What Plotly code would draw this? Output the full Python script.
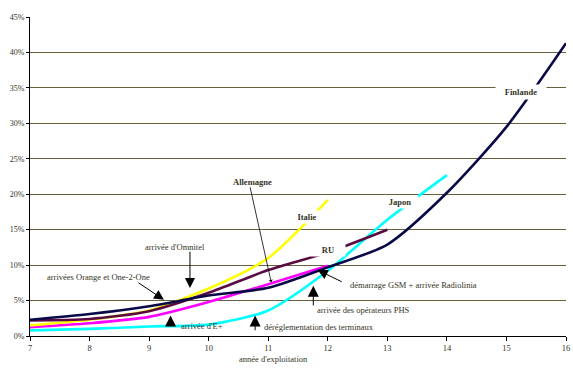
import plotly.graph_objects as go

years = [7, 8, 9, 10, 11, 12, 13, 14, 15, 16]
finlande = [2.3, 3.1, 4.2, 5.7, 6.8, 9.7, 12.9, 20.2, 29.5, 41.3]
italie = [1.5, 2.3, 3.6, 6.7, 11.0, 19.2, None, None, None, None]
ru = [2.2, 2.4, 3.5, 6.1, 9.3, 11.8, 15.0, None, None, None]
allemagne = [1.25, 1.8, 2.7, 4.8, 7.3, 9.9, None, None, None, None]
japon = [0.8, 1.0, 1.35, 1.6, 3.6, 9.2, 16.4, 22.7, None, None]

series = [
    ("Japon", japon, "#00FFFF"),
    ("Allemagne", allemagne, "#FF00FF"),
    ("Italie", italie, "#FFFF00"),
    ("RU", ru, "#5A0C42"),
    ("Finlande", finlande, "#0A0A48"),
]

y_ticks = [0, 5, 10, 15, 20, 25, 30, 35, 40, 45]

FONT = "Liberation Serif"
TXT = "#333326"

fig = go.Figure()
for name, vals, col in series:
    fig.add_trace(go.Scatter(
        x=years, y=vals, name=name, mode="lines",
        line=dict(color=col, width=2.6, shape="spline", smoothing=0.7),
        connectgaps=False, hoverinfo="skip"))

ann = []
# series labels (white boxes interrupt the curves like the original)
def lab(text, x, y, w=None, h=None, bg="white"):
    d = dict(text="<b>%s</b>" % text, x=x, y=y, xref="x", yref="y",
             showarrow=False, font=dict(family=FONT, size=8.5, color=TXT),
             bgcolor=bg, borderpad=0)
    if w:
        d["width"] = w
    if h:
        d["height"] = h
    ann.append(d)

lab("Allemagne", 10.73, 21.75, bg="rgba(0,0,0,0)")
lab("Italie", 11.65, 16.8, w=30, h=12)
lab("RU", 12.0, 12.1, w=34, h=12)
lab("Japon", 13.22, 18.9, w=36, h=12)
lab("Finlande", 15.24, 34.4, w=50, h=14)

def txt(text, x, y, xanchor="center"):
    ann.append(dict(text=text, x=x, y=y, xref="x", yref="y", showarrow=False,
                    xanchor=xanchor, font=dict(family=FONT, size=8.5, color=TXT)))

def arrow(x, y, ax, ay, head=2, size=2.0, width=1.0):
    ann.append(dict(text="", x=x, y=y, ax=ax, ay=ay, xref="x", yref="y",
                    axref="x", ayref="y", showarrow=True, arrowhead=head,
                    arrowsize=size, arrowwidth=width, arrowcolor="#000000",
                    standoff=0, startstandoff=0))

txt("arrivée d'Omnitel", 9.435, 12.62)
arrow(9.686, 6.76, 9.686, 12.1)
txt("arrivées Orange et One-2-One", 8.15, 8.35)
arrow(9.25, 5.1, 8.797, 7.64)
txt("arrivée d'E+", 9.50, 1.48, xanchor="left")
arrow(9.36, 2.9, 9.36, 1.3, size=2.2)
txt("déréglementation des terminaux", 10.9, 1.34, xanchor="left")
arrow(10.78, 2.9, 10.78, 0.6, size=2.2)
txt("arrivée des opérateurs PHS", 11.78, 3.7, xanchor="left")
arrow(11.757, 7.1, 11.757, 4.1, size=2.2)
txt("démarrage GSM + arrivée Radiolinia", 12.34, 7.15, xanchor="left")
arrow(11.83, 9.3, 12.26, 7.55)
# Allemagne pointer (thin, small open head)
arrow(11.05, 7.6, 10.69, 21.2, head=1, size=0.9, width=0.8)

# axis title placed as in the original (left of centre)
ann.append(dict(text="année d'exploitation",
                x=(273 - 30) / (566 - 30), y=(336.2 - 359) / (336.2 - 17),
                xref="paper", yref="paper", yanchor="middle", xanchor="center",
                showarrow=False, font=dict(family=FONT, size=8.5, color=TXT)))

fig.update_layout(
    width=573, height=370,
    margin=dict(l=30, r=7, t=17, b=34, autoexpand=False),
    paper_bgcolor="white", plot_bgcolor="white",
    showlegend=False,
    annotations=ann,
    font=dict(family=FONT, size=8.5, color=TXT),
    xaxis=dict(range=[7, 16], tickmode="array", tickvals=years,
               ticktext=[str(v) for v in years], automargin=False,
               showgrid=False, zeroline=False, showline=True,
               linecolor="black", linewidth=1, ticks="outside", ticklen=4,
               tickcolor="black", tickfont=dict(family=FONT, size=8.5, color=TXT)),
    yaxis=dict(range=[0, 45], tickmode="array", tickvals=y_ticks,
               ticktext=["%d%%" % v for v in y_ticks], automargin=False,
               showgrid=True, gridcolor="#66603E", gridwidth=1,
               zeroline=False, showline=True, linecolor="black", linewidth=1,
               ticks="outside", ticklen=3, tickcolor="black",
               tickfont=dict(family=FONT, size=8, color=TXT)),
)

fig.write_html("out.html",
               config={"displayModeBar": False, "staticPlot": True},
               post_script="document.body.style.margin='0';document.body.style.overflow='hidden';")
